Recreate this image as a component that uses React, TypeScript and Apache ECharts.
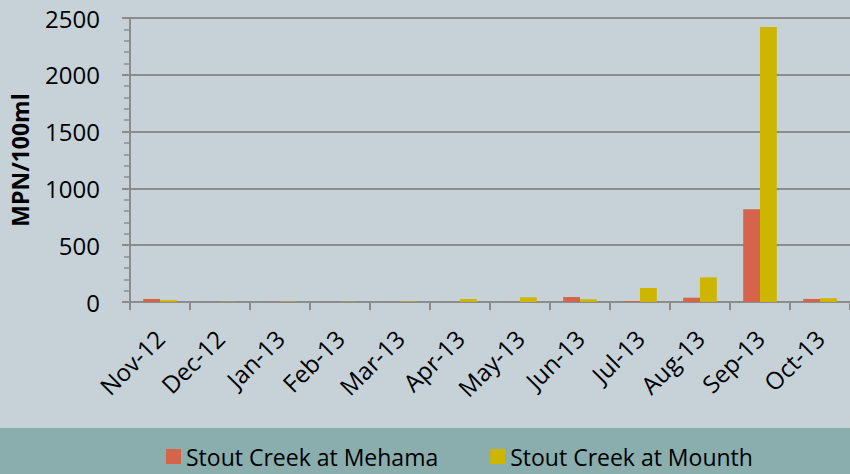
import React, { useEffect, useRef } from "react";
import * as echarts from "echarts";

const categories = ["Nov-12", "Dec-12", "Jan-13", "Feb-13", "Mar-13", "Apr-13", "May-13", "Jun-13", "Jul-13", "Aug-13", "Sep-13", "Oct-13"];
const mehama = [27, 1, 1, 1, 1, 1, 1, 44, 8, 38, 816, 27];
const mounth = [17, 2, 4, 2, 4, 26, 41, 24, 123, 217, 2420, 33];
const seriesNames = ["Stout Creek at Mehama", "Stout Creek at Mounth"];
const yTicks = { min: 0, max: 2500, interval: 500 };

const FONT = "'Open Sans', sans-serif";

export default function App() {
  const ref = useRef<HTMLDivElement>(null);
  useEffect(() => {
    if (!ref.current) return;
    const chart = echarts.init(ref.current, null, { renderer: "svg" });
    chart.setOption({
      animation: false,
      backgroundColor: "#C6D2D8",
      textStyle: { fontFamily: FONT },
      graphic: [
        {
          type: "rect",
          left: 0,
          top: 428,
          shape: { width: 850, height: 46 },
          style: { fill: "#8AADAD" },
          z: -1,
        },
      ],
      legend: {
        data: seriesNames,
        left: 166,
        top: 445,
        padding: 0,
        icon: "rect",
        itemWidth: 15,
        itemHeight: 15,
        itemGap: 52,
        textStyle: { fontSize: 23, lineHeight: 23, color: "#000", fontFamily: FONT },
      },
      grid: { left: 122, right: 0, top: 18, bottom: 172, containLabel: false },
      xAxis: {
        type: "category",
        data: categories,
        axisLine: { lineStyle: { color: "#8C8C8C", width: 2 } },
        axisTick: { show: true, length: 8, lineStyle: { color: "#8C8C8C", width: 2 } },
        axisLabel: {
          rotate: 45,
          fontSize: 24,
          color: "#000",
          margin: 32,
          fontFamily: FONT,
          interval: 0,
        },
      },
      yAxis: {
        type: "value",
        min: yTicks.min,
        max: yTicks.max,
        interval: yTicks.interval,
        name: "MPN/100ml",
        nameLocation: "middle",
        nameGap: 99,
        nameTextStyle: { fontSize: 23, fontWeight: "bold", color: "#000", fontFamily: FONT },
        axisLine: { show: true, lineStyle: { color: "#8C8C8C", width: 2 } },
        axisTick: { show: true, length: 8, lineStyle: { color: "#8C8C8C", width: 2 } },
        minorTick: { show: true, splitNumber: 5, length: 6, lineStyle: { color: "#8C8C8C", width: 1.5 } },
        axisLabel: { fontSize: 24, color: "#000", margin: 30, fontFamily: FONT, formatter: (v: number) => String(v) },
        splitLine: { show: true, lineStyle: { color: "#8C8C8C", width: 2 } },
      },
      series: [
        {
          name: seriesNames[0],
          type: "bar",
          data: mehama,
          itemStyle: { color: "#D5654A" },
          barGap: "0%",
          barCategoryGap: "44%",
        },
        {
          name: seriesNames[1],
          type: "bar",
          data: mounth,
          itemStyle: { color: "#CDB500" },
          barGap: "0%",
          barCategoryGap: "44%",
        },
      ],
    });
    return () => chart.dispose();
  }, []);
  return <div ref={ref} style={{ position: "fixed", left: 0, top: 0, width: 850, height: 474 }} />;
}
